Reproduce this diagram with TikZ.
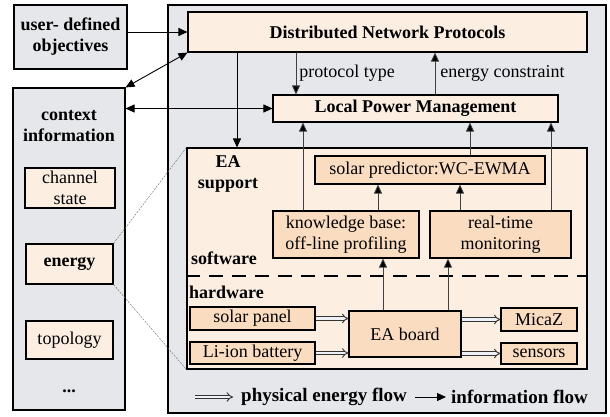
\documentclass[tikz,border=0pt]{standalone}
\usepackage{fontspec}
\setmainfont{Liberation Serif}
\usetikzlibrary{arrows.meta}
\definecolor{panelgray}{HTML}{E6E7EA}
\definecolor{peachL}{HTML}{FDEEE2}
\definecolor{peachD}{HTML}{FADCC0}
\definecolor{flowfill}{HTML}{EEF2F8}
\newcommand\fsz{\fontsize{18}{21}\selectfont}
\newcommand\lsz{\fontsize{19}{23}\selectfont}
\begin{document}
\begin{tikzpicture}[x=1pt,y=-1pt,
  box/.style={draw, line width=1.1pt, inner sep=0pt, align=center, font=\fsz},
  gbox/.style={box, fill=panelgray},
  lbox/.style={box, fill=peachL},
  dbox/.style={box, fill=peachD},
  bold/.style={font=\fsz\bfseries},
  lbl/.style={inner sep=0pt, font=\fsz},
  blbl/.style={inner sep=0pt, font=\fsz\bfseries, align=center},
  info/.style={line width=0.9pt, -{Triangle[length=9pt,width=8pt]}},
  infoline/.style={line width=0.8pt, draw=black!75, -{Triangle[length=9pt,width=8pt,fill=black]}},
  infoboth/.style={line width=0.9pt, {Triangle[length=9pt,width=8pt]}-{Triangle[length=9pt,width=8pt]}},
  eflow/.style={draw=black!80, line width=0.9pt, double=flowfill, double distance=2.4pt, -{Implies}},
  zoomline/.style={draw=black!60, line width=0.4pt, dash pattern=on 2pt off 1.2pt}
]
\useasboundingbox (0,0) rectangle (610,416);
% left column
\node[gbox, bold, minimum width=113pt, minimum height=64pt] (uobj) at (70.5,37) {user- defined\\objectives};
\node[gbox, minimum width=112pt, minimum height=322pt] (ctx) at (69,249) {};
\node[blbl] (ctxl) at (69,126) {context\\information};
\node[lbox, minimum width=90pt, minimum height=40pt] (chan) at (70,188) {channel\\state};
\node[lbox, bold, minimum width=87pt, minimum height=40pt] (energy) at (69.5,264) {energy};
\node[lbox, minimum width=87pt, minimum height=38pt] (topo) at (69.5,340) {topology};
\node[blbl] (dots) at (69,391) {...};
% main panel
\node[gbox, minimum width=438pt, minimum height=408pt] (panel) at (387,209) {};
\node[lbox, bold, minimum width=399pt, minimum height=40pt] (dnp) at (387.5,32) {Distributed Network Protocols};
\node[lbox, bold, minimum width=285pt, minimum height=27pt] (lpm) at (415.5,108.5) {Local Power Management};
\node[lbox, minimum width=400pt, minimum height=221pt] (ea) at (387,258.5) {};
\node[blbl] (eal) at (228,174) {EA\\support};
\node[dbox, minimum width=230pt, minimum height=28pt] (solar) at (430,170) {solar predictor:WC-EWMA};
\node[dbox, minimum width=146pt, minimum height=47pt] (kb) at (346,234.5) {knowledge base:\\off-line profiling};
\node[dbox, minimum width=141pt, minimum height=47pt] (rt) at (500.5,234.5) {real-time\\monitoring};
\node[blbl, anchor=west] (sw) at (191,258) {software};
\node[blbl, anchor=west] (hw) at (189,292) {hardware};
\node[dbox, minimum width=125pt, minimum height=23pt] (sp) at (252.5,318.5) {solar panel};
\node[dbox, minimum width=125pt, minimum height=22pt] (bat) at (252.5,353) {Li-ion battery};
\node[dbox, minimum width=112pt, minimum height=46pt] (eab) at (405,334) {EA board};
\node[dbox, minimum width=76pt, minimum height=23pt] (mz) at (539,319.5) {MicaZ};
\node[dbox, minimum width=76pt, minimum height=21pt] (sen) at (539,353.5) {sensors};
% column coordinates
\coordinate (cA) at (237,0);
\coordinate (cB) at (296,0);
\coordinate (cC) at (435,0);
\coordinate (cD) at (303,0);
\coordinate (cE) at (470,0);
\coordinate (cF) at (551,0);
\coordinate (cG) at (378,0);
\coordinate (cH) at (460,0);
\coordinate (cI) at (383,0);
\coordinate (cJ) at (448,0);
\coordinate (dl) at (0,276);
% separator
\draw[line width=2.2pt, dash pattern=on 14pt off 9pt] (ea.west |- dl) -- (ea.east |- dl);
% zoom lines
\draw[zoomline] (energy.north east) -- (ea.north west);
\draw[zoomline] (energy.south east) -- (ea.south west);
% connectors
\draw[info] (uobj.east |- dnp.west) -- (dnp.west);
\draw[infoboth] (ctx.north east) -- (dnp.south west);
\draw[infoboth] (ctx.east |- lpm.west) -- (lpm.west);
\draw[info] (dnp.south -| cA) -- (ea.north -| cA);
\draw[infoline] (dnp.south -| cB) -- node[lbl, anchor=west, xshift=3pt] (pt) {protocol type} (lpm.north -| cB);
\draw[infoline] (lpm.north -| cC) -- node[lbl, anchor=west, xshift=5pt] (ec) {energy constraint} (dnp.south -| cC);
\draw[infoline] (kb.north -| cD) -- (lpm.south -| cD);
\draw[infoline] (solar.north -| cE) -- (lpm.south -| cE);
\draw[infoline] (rt.north -| cF) -- (lpm.south -| cF);
\draw[infoline] (kb.north -| cG) -- (solar.south -| cG);
\draw[infoline] (rt.north -| cH) -- (solar.south -| cH);
\draw[infoline] (eab.north -| cI) -- (kb.south -| cI);
\draw[infoline] (eab.north -| cJ) -- (rt.south -| cJ);
% energy flows
\draw[eflow] (sp.east) -- (eab.west |- sp.east);
\draw[eflow] (bat.east) -- (eab.west |- bat.east);
\draw[eflow] (eab.east |- mz.west) -- (mz.west);
\draw[eflow] (eab.east |- sen.west) -- (sen.west);
% legend
\node[inner sep=0pt, font=\lsz\bfseries, anchor=west] (lg1) at (241,397) {physical energy flow};
\node[inner sep=0pt, font=\lsz\bfseries, anchor=west] (lg2) at (451,397) {information flow};
\coordinate (le0) at (195,397);
\coordinate (li0) at (415,397);
\draw[eflow] (le0) -- ([xshift=-8pt]lg1.west);
\draw[info] (li0) -- ([xshift=-5pt]lg2.west);
\end{tikzpicture}
\end{document}
